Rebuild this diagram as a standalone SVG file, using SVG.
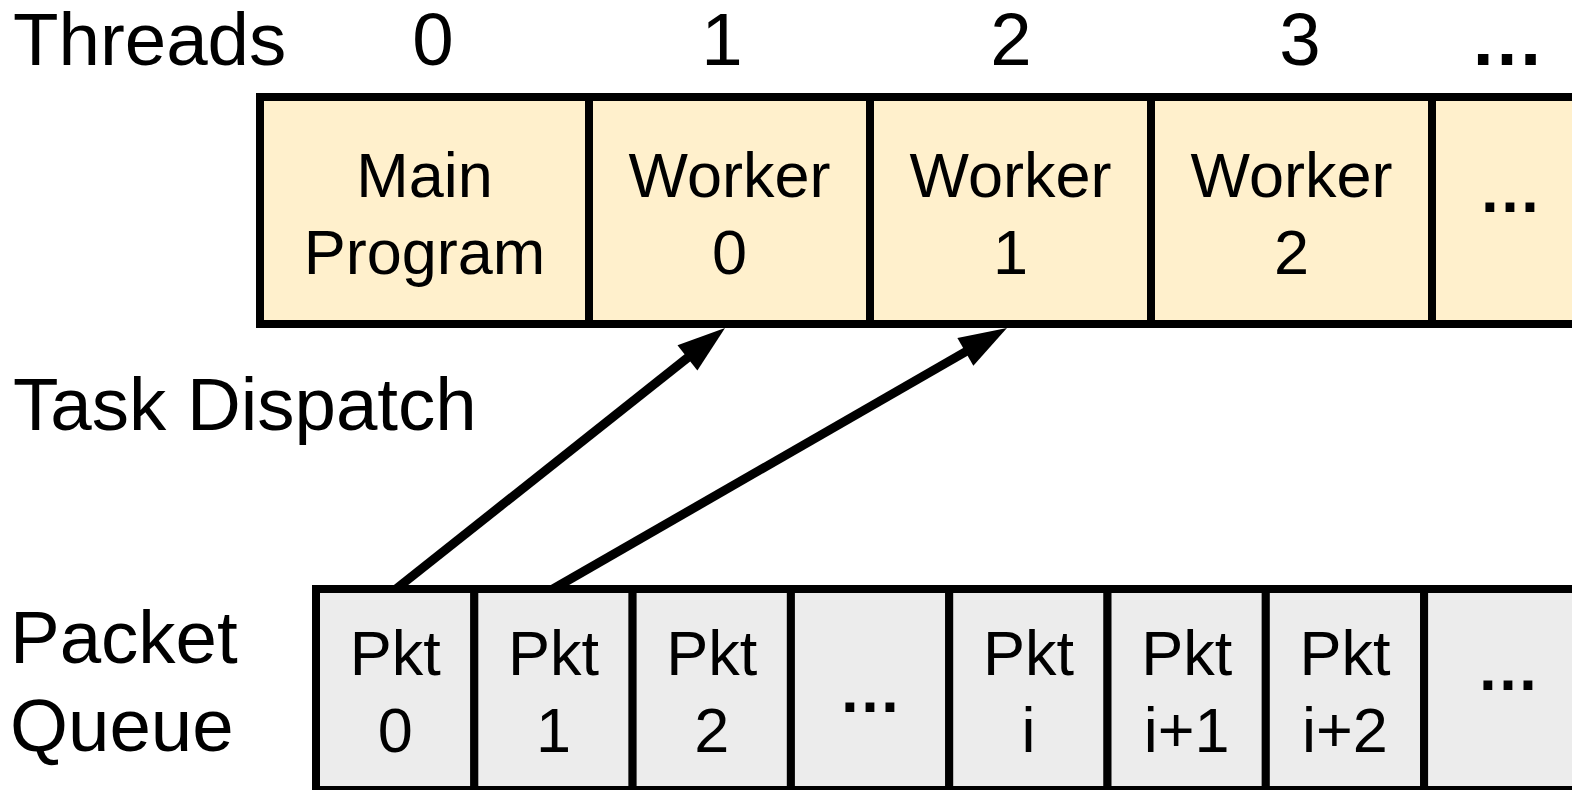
<svg xmlns="http://www.w3.org/2000/svg" width="1572" height="790" viewBox="0 0 1572 790">
  <style>
    text { font-family: "Liberation Sans", Arial, sans-serif; fill: #000; }
    .lbl { font-size: 74.5px; }
    .cell { font-size: 63px; text-anchor: middle; }
    .hdr { font-size: 74.5px; text-anchor: middle; }
    .dots { font-weight: bold; }
    .thread rect { fill: #fff0cc; stroke: #000; stroke-width: 8; }
    .pkt rect { fill: #ececec; stroke: #000; stroke-width: 8; }
    .conn { fill: none; stroke: #000; stroke-width: 9; marker-end: url(#head); }
  </style>
  <defs>
    <marker id="head" markerUnits="userSpaceOnUse" markerWidth="48" markerHeight="32" refX="8" refY="16" orient="auto" overflow="visible">
      <path d="M0,0 L48,16 L0,32 z" fill="#000"/>
    </marker>
  </defs>
  <rect width="1572" height="790" fill="#fff"/>

  <!-- row labels -->
  <text class="lbl" x="13" y="65">Threads</text>
  <text class="lbl" x="13" y="430">Task Dispatch</text>
  <text class="lbl" x="10" y="663">Packet</text>
  <text class="lbl" x="10" y="751">Queue</text>

  <!-- thread indices -->
  <g id="thread-indices">
    <text class="hdr" x="433" y="65">0</text>
    <text class="hdr" x="722" y="65">1</text>
    <text class="hdr" x="1011" y="65">2</text>
    <text class="hdr" x="1300" y="65">3</text>
    <text class="hdr dots" x="1507" y="65">…</text>
  </g>

  <!-- thread row -->
  <g id="main-program" class="thread">
    <rect x="260" y="97" width="329" height="227"/>
    <text class="cell" x="424.5" y="197">Main</text>
    <text class="cell" x="424.5" y="274">Program</text>
  </g>
  <g id="worker-0" class="thread">
    <rect x="589" y="97" width="281" height="227"/>
    <text class="cell" x="729.5" y="197">Worker</text>
    <text class="cell" x="729.5" y="274">0</text>
  </g>
  <g id="worker-1" class="thread">
    <rect x="870" y="97" width="281" height="227"/>
    <text class="cell" x="1010.5" y="197">Worker</text>
    <text class="cell" x="1010.5" y="274">1</text>
  </g>
  <g id="worker-2" class="thread">
    <rect x="1151" y="97" width="281" height="227"/>
    <text class="cell" x="1291.5" y="197">Worker</text>
    <text class="cell" x="1291.5" y="274">2</text>
  </g>
  <g id="worker-more" class="thread">
    <rect x="1432" y="97" width="281" height="227"/>
    <text class="cell dots" x="1510" y="212">…</text>
  </g>

  <!-- packet queue row -->
  <g id="pkt-0" class="pkt">
    <rect x="316" y="589" width="158.3" height="201"/>
    <text class="cell" x="395.2" y="675">Pkt</text>
    <text class="cell" x="395.2" y="752">0</text>
  </g>
  <g id="pkt-1" class="pkt">
    <rect x="474.3" y="589" width="158.3" height="201"/>
    <text class="cell" x="553.5" y="675">Pkt</text>
    <text class="cell" x="553.5" y="752">1</text>
  </g>
  <g id="pkt-2" class="pkt">
    <rect x="632.6" y="589" width="158.3" height="201"/>
    <text class="cell" x="711.8" y="675">Pkt</text>
    <text class="cell" x="711.8" y="752">2</text>
  </g>
  <g id="pkt-gap" class="pkt">
    <rect x="790.9" y="589" width="158.3" height="201"/>
    <text class="cell dots" x="870" y="712">…</text>
  </g>
  <g id="pkt-i" class="pkt">
    <rect x="949.2" y="589" width="158.3" height="201"/>
    <text class="cell" x="1028.4" y="675">Pkt</text>
    <text class="cell" x="1028.4" y="752">i</text>
  </g>
  <g id="pkt-i1" class="pkt">
    <rect x="1107.5" y="589" width="158.3" height="201"/>
    <text class="cell" x="1186.7" y="675">Pkt</text>
    <text class="cell" x="1186.7" y="752">i+1</text>
  </g>
  <g id="pkt-i2" class="pkt">
    <rect x="1265.8" y="589" width="158.3" height="201"/>
    <text class="cell" x="1345" y="675">Pkt</text>
    <text class="cell" x="1345" y="752">i+2</text>
  </g>
  <g id="pkt-more" class="pkt">
    <rect x="1424.1" y="589" width="158.3" height="201"/>
    <text class="cell dots" x="1508" y="690">…</text>
  </g>

  <!-- dispatch arrows -->
  <g id="connectors">
    <path class="conn" d="M396,589 L693.7,352.9"/>
    <path class="conn" d="M553,589 L972.3,347.9"/>
  </g>
</svg>
